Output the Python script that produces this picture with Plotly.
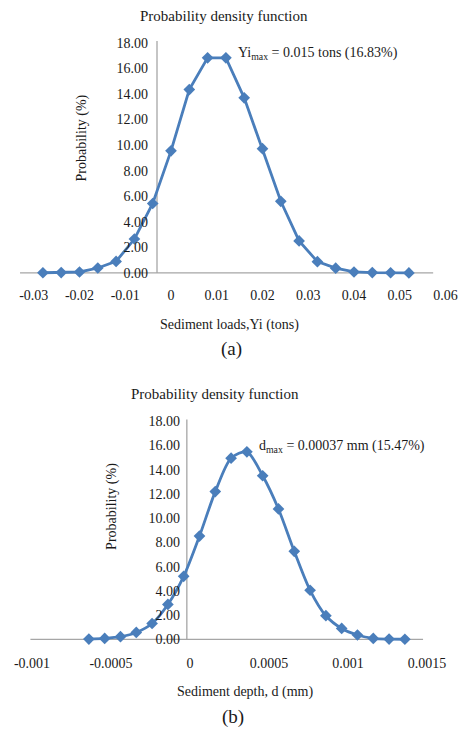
import plotly.graph_objects as go

# ---------------- data ----------------
# Panel (a): sediment loads Yi (tons) vs probability (%)
yi_loads = [-0.028, -0.024, -0.020, -0.016, -0.012, -0.008, -0.004, 0.000, 0.004, 0.008,
            0.012, 0.016, 0.020, 0.024, 0.028, 0.032, 0.036, 0.040, 0.044, 0.048, 0.052]
prob_a = [0.01, 0.02, 0.07, 0.38, 0.90, 2.65, 5.43, 9.55, 14.35, 16.83,
          16.83, 13.70, 9.72, 5.60, 2.50, 0.88, 0.37, 0.07, 0.02, 0.01, 0.00]

# Panel (b): sediment depth d (mm) vs probability (%)
depth_d = [-0.00064, -0.00054, -0.00044, -0.00034, -0.00024, -0.00014, -0.00004, 0.00006,
           0.00016, 0.00026, 0.00036, 0.00046, 0.00056, 0.00066, 0.00076, 0.00086,
           0.00096, 0.00106, 0.00116, 0.00126, 0.00136]
prob_b = [0.02, 0.08, 0.22, 0.57, 1.31, 2.88, 5.20, 8.52,
          12.19, 14.95, 15.47, 13.50, 10.76, 7.26, 4.05, 1.95,
          0.90, 0.36, 0.08, 0.02, 0.01]

y_ticks = [0, 2, 4, 6, 8, 10, 12, 14, 16, 18]
xa_ticks = [-0.03, -0.02, -0.01, 0, 0.01, 0.02, 0.03, 0.04, 0.05, 0.06]
xa_text = ["-0.03", "-0.02", "-0.01", "0", "0.01", "0.02", "0.03", "0.04", "0.05", "0.06"]
xb_ticks = [-0.001, -0.0005, 0, 0.0005, 0.001, 0.0015]
xb_text = ["-0.001", "-0.0005", "0", "0.0005", "0.001", "0.0015"]

# ---------------- style ----------------
W, H = 459, 729
BLUE = "#4A7EBB"
AXIS = "#A6A6A6"
FONT = "Liberation Serif"
TXT = "#1a1a1a"

# axis crossings / extents (data coordinates)
a_vaxis_x = -0.00306
a_hline = (-0.0330, 0.0573)
a_vtop = 18.15
b_vaxis_x = -0.00002
b_hline = (-0.00101, 0.001475)
b_vtop = 18.15

fig = go.Figure()

fig.add_trace(go.Scatter(
    x=yi_loads, y=prob_a, mode="lines+markers", xaxis="x", yaxis="y",
    line=dict(color=BLUE, width=2.8),
    marker=dict(symbol="diamond", size=9, color=BLUE),
    showlegend=False, hoverinfo="skip"))

fig.add_trace(go.Scatter(
    x=depth_d, y=prob_b, mode="lines+markers", xaxis="x2", yaxis="y2",
    line=dict(color=BLUE, width=2.8, shape="spline", smoothing=0.8),
    marker=dict(symbol="diamond", size=9, color=BLUE),
    showlegend=False, hoverinfo="skip"))

# axis lines as shapes
shapes = [
    dict(type="line", xref="x", yref="y", x0=a_hline[0], x1=a_hline[1], y0=0, y1=0,
         line=dict(color=AXIS, width=1.3), layer="below"),
    dict(type="line", xref="x", yref="y", x0=a_vaxis_x, x1=a_vaxis_x, y0=0, y1=a_vtop,
         line=dict(color=AXIS, width=1.3), layer="below"),
    dict(type="line", xref="x2", yref="y2", x0=b_hline[0], x1=b_hline[1], y0=0, y1=0,
         line=dict(color=AXIS, width=1.3), layer="below"),
    dict(type="line", xref="x2", yref="y2", x0=b_vaxis_x, x1=b_vaxis_x, y0=0, y1=b_vtop,
         line=dict(color=AXIS, width=1.3), layer="below"),
]

tickfont = dict(family=FONT, size=14, color=TXT)

# Panel (a) geometry: 0 at px171, 45.75 px per 0.01 ; y: 0 at py273, 12.83 px/unit
xa_range = [-171 / 4575, (W - 171) / 4575]
ya_range = [-0.5, 18.5]
ya_dom = [1 - (273 + 0.5 * 12.83) / H, 1 - (273 - 18.5 * 12.83) / H]
# Panel (b) geometry: 0 at px190, 158 px per 0.001 ; y: 0 at py641, 12.17 px/unit
xb_range = [-190 / 158000, (W - 190) / 158000]
yb_range = [-0.5, 18.5]
yb_dom = [1 - (641 + 0.5 * 12.17) / H, 1 - (641 - 18.5 * 12.17) / H]

fig.update_layout(
    width=W, height=H,
    margin=dict(l=0, r=0, t=0, b=0),
    paper_bgcolor="white", plot_bgcolor="rgba(0,0,0,0)",
    shapes=shapes,
    xaxis=dict(domain=[0, 1], range=xa_range, anchor="y", showgrid=False, zeroline=False,
               showline=False, tickvals=xa_ticks, ticktext=xa_text, tickfont=tickfont,
               ticks="", ticklabelstandoff=6),
    yaxis=dict(domain=ya_dom, range=ya_range, anchor="free", position=157 / W,
               showgrid=False, zeroline=False, showline=False, tickvals=y_ticks,
               tickformat=".2f", tickfont=tickfont, ticks="", ticklabelstandoff=9),
    xaxis2=dict(domain=[0, 1], range=xb_range, anchor="y2", showgrid=False, zeroline=False,
                showline=False, tickvals=xb_ticks, ticktext=xb_text, tickfont=tickfont,
                ticks="", ticklabelstandoff=8),
    yaxis2=dict(domain=yb_dom, range=yb_range, anchor="free", position=187 / W,
                showgrid=False, zeroline=False, showline=False, tickvals=y_ticks,
                tickformat=".2f", tickfont=tickfont, ticks="", ticklabelstandoff=7),
)

def ann(text, px, py, size=14, angle=0, xanchor="center"):
    fig.add_annotation(text=text, x=px / W, y=1 - py / H, xref="paper", yref="paper",
                       showarrow=False, textangle=angle, xanchor=xanchor, yanchor="middle",
                       font=dict(family=FONT, size=size, color=TXT))

# Panel (a) texts
ann("Probability density function", 224, 15, size=15)
ann("Yi<sub>max</sub> = 0.015 tons (16.83%)", 236, 53, xanchor="left")
ann("Probability (%)", 82, 138, angle=-90)
ann("Sediment loads,Yi (tons)", 230, 325)
ann("(a)", 231, 349, size=19)

# Panel (b) texts
ann("Probability density function", 215, 395, size=15)
ann("d<sub>max</sub> = 0.00037 mm (15.47%)", 257, 447, xanchor="left")
ann("Probability (%)", 112, 508, angle=-90)
ann("Sediment depth, d (mm)", 245, 694)
ann("(b)", 233, 719, size=19)

fig.write_html(
    "out.html",
    config={"displayModeBar": False},
    post_script="document.body.style.margin='0';document.body.style.overflow='hidden';",
)
